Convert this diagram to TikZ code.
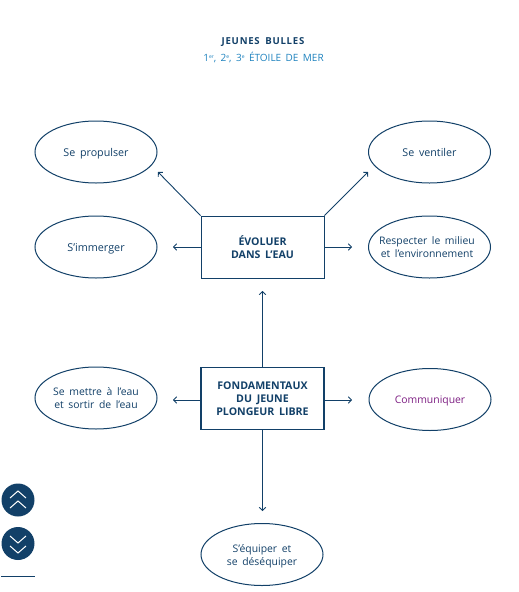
\documentclass[tikz,border=0pt]{standalone}
\usepackage{fontspec}
\setmainfont[WordSpace=1.7]{Open Sans}
\usetikzlibrary{arrows.meta,shapes.geometric}
\definecolor{navy}{RGB}{18,64,104}
\definecolor{lightb}{RGB}{30,130,190}
\definecolor{purp}{RGB}{125,30,130}
\tikzset{
  x=1pt,y=-1pt,
  oval/.style={draw=navy,line width=1pt,ellipse,minimum width=122pt,minimum height=62pt,inner sep=0pt,align=center,text=navy,font=\fontsize{10.4}{12.7}\selectfont},
  mainbox/.style={draw=navy,rectangle,minimum width=123pt,minimum height=62pt,inner sep=0pt,align=center,text=navy,font=\fontsize{10.6}{13.2}\selectfont\bfseries},
  link/.style={draw=navy,line width=0.9pt,-{Straight Barb[length=3pt,width=6.5pt]}},
  roundbtn/.style={circle,fill=navy,draw=none,minimum size=33pt,inner sep=0pt},
  chev/.style={draw=white,line width=1pt}
}
\newcommand{\supr}[1]{\raisebox{3pt}{\fontsize{5}{5}\selectfont #1}}
\newcommand{\onel}[1]{\rule[-3pt]{0pt}{14pt}#1}
\newcommand{\wideline}[1]{\makebox[80pt][c]{#1\kern5pt}}
\begin{document}
\begin{tikzpicture}
\useasboundingbox (0,0) rectangle (519,592);
\node[text=navy,font=\fontsize{9.6}{10}\selectfont\bfseries\addfontfeature{LetterSpace=8}] (title) at (263,42) {JEUNES  BULLES};
\node[text=lightb,font=\fontsize{10}{10}\selectfont] (sub) at (263.5,57.5) {1\supr{er},  2\supr{e},  3\supr{e} ÉTOILE  DE  MER};

\node[oval,font=\fontsize{10.7}{12.7}\selectfont] (prop) at (96,152) {\onel{Se  propulser}};
\node[oval,font=\fontsize{10.7}{12.7}\selectfont] (vent) at (429.5,152) {\onel{Se  ventiler}};
\node[oval,font=\fontsize{10.8}{12.7}\selectfont] (imm) at (96,247) {\onel{S’immerger}};
\node[oval] (resp) at (429.5,247) {\wideline{Respecter  le milieu}\\\wideline{et  l’environnement}};
\node[oval] (mett) at (96,398) {Se  mettre  à  l’eau\\et  sortir  de  l’eau};
\node[oval,text=purp] (comm) at (430,399.5) {\onel{Communiquer}};
\node[oval] (equi) at (262,554.5) {\rule{0pt}{12pt}S’équiper et\\se  déséquiper};

\node[mainbox,line width=1pt] (evo) at (262.5,247) {ÉVOLUER\\DANS  L’EAU};
\node[mainbox,line width=1.5pt] (fond) at (262.5,398.5) {FONDAMENTAUX\\DU JEUNE\\PLONGEUR  LIBRE};

\coordinate (e1) at (158,172);
\coordinate (e2) at (368,172);
\coordinate (e3) at (173,247);
\coordinate (e4) at (352,247);
\coordinate (e5) at (262.5,291);
\coordinate (e6) at (173,400);
\coordinate (e7) at (352,400);
\coordinate (e8) at (262.5,511);
\path[link] (evo.north west) -- (e1);
\path[link] (evo.north east) -- (e2);
\path[link] (evo.west |- e3) -- (e3);
\path[link] (evo.east |- e4) -- (e4);
\path[link] (fond.north) -- (e5);
\path[link] (fond.west |- e6) -- (e6);
\path[link] (fond.east |- e7) -- (e7);
\path[link] (fond.south) -- (e8);

\node[roundbtn] (up) at (18,500) {};
\node[roundbtn] (down) at (18,543.5) {};
\draw[chev] (10,498) -- (18,491) -- (26,498);
\draw[chev] (10,508) -- (18,501) -- (26,508);
\draw[chev] (10,536) -- (18,543) -- (26,536);
\draw[chev] (10,546) -- (18,553) -- (26,546);
\coordinate (r1) at (1,576.5);
\coordinate (r2) at (35,576.5);
\draw[navy,line width=1pt] (r1) -- (r2);
\end{tikzpicture}
\end{document}
